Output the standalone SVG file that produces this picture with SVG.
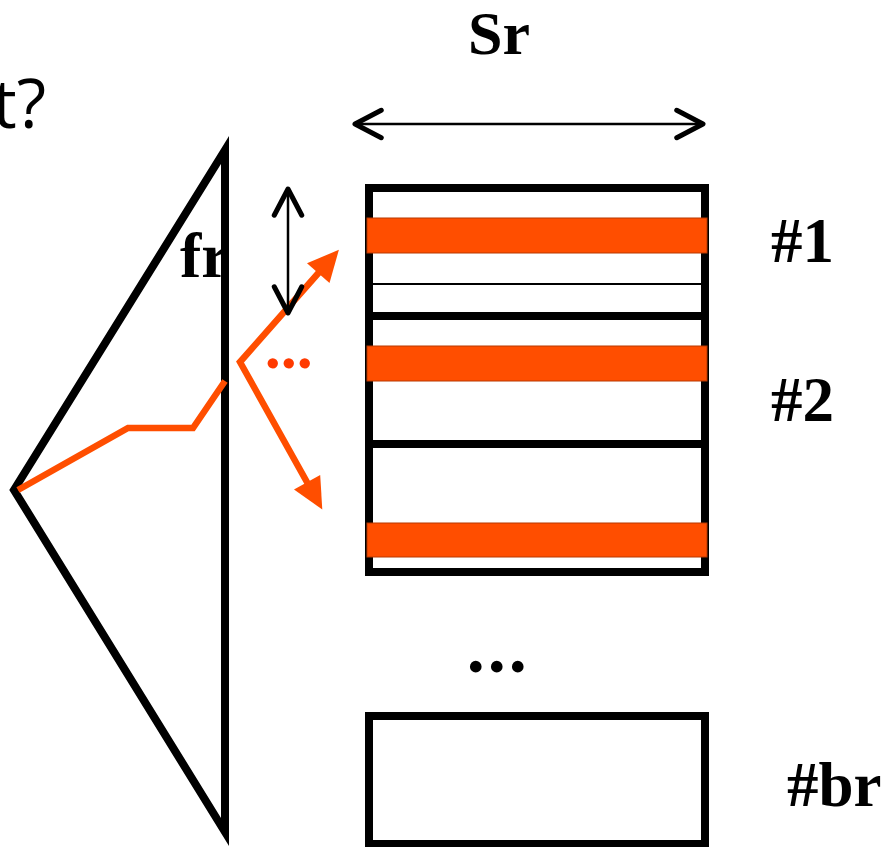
<svg xmlns="http://www.w3.org/2000/svg" width="896" height="847" viewBox="0 0 896 847">
  <style>
    .bold { font-family: "Liberation Serif", "Times New Roman", serif; font-weight: bold; fill: #000; }
    .frame { fill: none; stroke: #000; stroke-width: 8; }
    .divider { stroke: #000; stroke-width: 8; }
    .band { fill: #FF4E00; stroke: #B83800; stroke-width: 1; }
    .ray { fill: none; stroke: #FF4E00; stroke-width: 6.5; stroke-linejoin: miter; }
    .dim { fill: none; stroke: #000; stroke-width: 2.5; }
  </style>
  <defs>
    <marker id="chevron" markerUnits="userSpaceOnUse" markerWidth="40" markerHeight="40" refX="0" refY="0" viewBox="-26 -16 30 32" orient="auto-start-reverse" overflow="visible">
      <path d="M-21,-11 L0,0 L-21,11" fill="none" stroke="#000" stroke-width="4" stroke-linecap="round" stroke-linejoin="round"/>
    </marker>
    <marker id="head" markerUnits="userSpaceOnUse" markerWidth="50" markerHeight="50" refX="0" refY="0" viewBox="-20 -15 40 30" orient="auto-start-reverse" overflow="visible">
      <path d="M-13,-12 L12,0 L-13,12 Z" fill="#FF4E00"/>
    </marker>
    <clipPath id="leftOfEdge">
      <rect x="0" y="0" width="224" height="847"/>
    </clipPath>
  </defs>

  <!-- question text running off the left edge -->
  <text x="46" y="128" font-family="'Open Sans', 'Noto Sans', sans-serif" font-size="68" text-anchor="end" fill="#000">t?</text>

  <!-- width label -->
  <text class="bold" x="468" y="54" font-size="62">Sr</text>

  <!-- label partly hidden behind the prism edge -->
  <text class="bold" x="180" y="277" font-size="64" clip-path="url(#leftOfEdge)">fr</text>

  <!-- prism -->
  <g id="prism">
    <polygon points="225,150 14,490 225,832" fill="none" stroke="#000" stroke-width="8" stroke-linejoin="miter"/>
  </g>

  <!-- stacked frame with bands -->
  <g id="stack">
    <rect class="frame" x="369" y="188" width="336" height="384"/>
    <line class="divider" x1="369" y1="316" x2="705" y2="316"/>
    <line class="divider" x1="369" y1="444" x2="705" y2="444"/>
    <line x1="373" y1="284" x2="701" y2="284" stroke="#000" stroke-width="2"/>
  </g>
  <g id="band-1"><rect class="band" x="367" y="218" width="340" height="35"/></g>
  <g id="band-2"><rect class="band" x="367" y="346" width="340" height="35"/></g>
  <g id="band-3"><rect class="band" x="367" y="523" width="340" height="34"/></g>

  <!-- last frame -->
  <g id="frame-br">
    <rect class="frame" x="369" y="716" width="336" height="128"/>
  </g>

  <!-- labels -->
  <g id="label-1"><text class="bold" x="771" y="262" font-size="63">#1</text></g>
  <g id="label-2"><text class="bold" x="771" y="421" font-size="63">#2</text></g>
  <g id="label-br"><text class="bold" x="787" y="806" font-size="63">#br</text></g>
  <text class="bold" x="466.7" y="672" font-size="72" letter-spacing="3">...</text>

  <!-- connectors -->
  <g id="connectors">
    <polyline class="ray" points="18,490 128,428 193,428 225,381"/>
    <path class="ray" d="M329,261 L240,362 L315,496.5" marker-start="url(#head)" marker-end="url(#head)"/>
    <text x="264.7" y="368" font-family="'Liberation Serif', serif" font-weight="bold" font-size="64" fill="#FF3A00">...</text>
    <line class="dim" x1="288" y1="189" x2="288" y2="313" marker-start="url(#chevron)" marker-end="url(#chevron)"/>
    <line class="dim" x1="355" y1="124" x2="703" y2="124" marker-start="url(#chevron)" marker-end="url(#chevron)"/>
  </g>
</svg>
